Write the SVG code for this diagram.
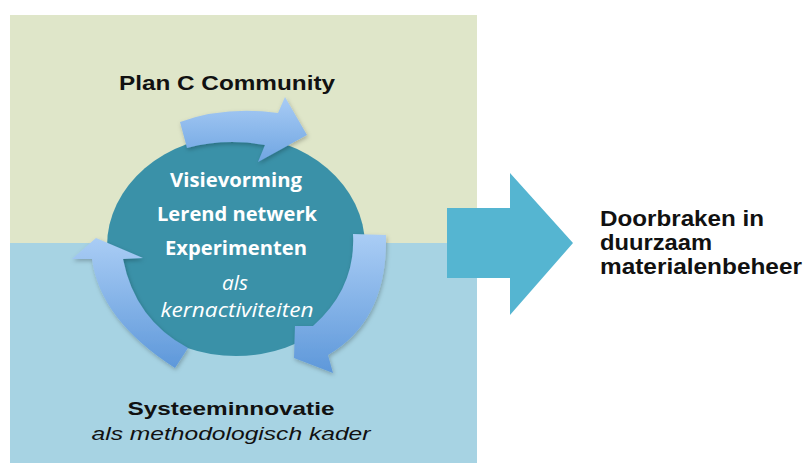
<svg xmlns="http://www.w3.org/2000/svg" width="806" height="465" viewBox="0 0 806 465">
  <defs>
    <linearGradient id="arrowGrad" x1="0" y1="0" x2="0" y2="1">
      <stop offset="0" stop-color="#aacdf5"/>
      <stop offset="1" stop-color="#5e98da"/>
    </linearGradient>
    <linearGradient id="topArrowGrad" x1="0" y1="0" x2="0" y2="1">
      <stop offset="0" stop-color="#a9ccf5"/>
      <stop offset="1" stop-color="#6fa5e2"/>
    </linearGradient>
    <filter id="shadow" x="-20%" y="-20%" width="140%" height="140%">
      <feDropShadow dx="1" dy="2" stdDeviation="2" flood-color="#000" flood-opacity="0.25"/>
    </filter>
  </defs>
  <style>
    .title { font-family: "Liberation Sans", Arial, sans-serif; font-weight: bold; fill: #111; }
    .sub { font-family: "Liberation Sans", Arial, sans-serif; font-style: italic; fill: #111; }
    .inner { font-family: "Open Sans", "Noto Sans", sans-serif; fill: #ffffff; }
    .innerB { font-weight: bold; }
    .innerI { font-style: italic; }
    .cyc { fill: url(#arrowGrad); filter: url(#shadow); }
  </style>
  <rect width="806" height="465" fill="#ffffff"/>

  <g id="panel-top">
    <rect x="10" y="15" width="467" height="228" fill="#dfe6c9"/>
    <text class="title" x="227" y="90" font-size="21" text-anchor="middle" textLength="216" lengthAdjust="spacingAndGlyphs">Plan C Community</text>
  </g>

  <g id="panel-bottom">
    <rect x="10" y="243" width="467" height="220" fill="#a7d3e3"/>
    <text class="title" x="231" y="415" font-size="19" text-anchor="middle" textLength="207" lengthAdjust="spacingAndGlyphs">Systeeminnovatie</text>
    <text class="sub" x="231" y="440" font-size="19" text-anchor="middle" textLength="279" lengthAdjust="spacingAndGlyphs">als methodologisch kader</text>
  </g>

  <g id="core">
    <ellipse cx="236" cy="246" rx="129" ry="110" fill="#3a91a8"/>
    <text class="inner innerB" x="236" y="187" font-size="20" text-anchor="middle" textLength="132" lengthAdjust="spacingAndGlyphs">Visievorming</text>
    <text class="inner innerB" x="237" y="221" font-size="20" text-anchor="middle" textLength="160" lengthAdjust="spacingAndGlyphs">Lerend netwerk</text>
    <text class="inner innerB" x="236" y="255" font-size="20" text-anchor="middle" textLength="142" lengthAdjust="spacingAndGlyphs">Experimenten</text>
    <text class="inner innerI" x="235" y="290" font-size="20" text-anchor="middle" textLength="26" lengthAdjust="spacingAndGlyphs">als</text>
    <text class="inner innerI" x="237" y="317" font-size="20" text-anchor="middle" textLength="153" lengthAdjust="spacingAndGlyphs">kernactiviteiten</text>
  </g>

  <g id="connectors">
    <path id="cycle-top" class="cyc" style="fill:url(#topArrowGrad)" d="M180,122 Q225,106 278,113 L285,97 L307,135 L258,162 L265,145 Q225,138 187,148 Z"/>
    <path id="cycle-right" class="cyc" d="M353,234 L386,235 Q388,320 328,355 L333,373 L294,358 L295,326 L313,326 Q356,288 353,234 Z"/>
    <path id="cycle-left" class="cyc" d="M175,368 Q100,320 92,259 L72,259 L96,238 L143,258 L123,259 Q135,320 188,348 Z"/>
  </g>

  <g id="big-arrow">
    <path d="M447,208 L510,208 L510,173 L573,243 L510,315 L510,278 L447,278 Z" fill="#55b5d1"/>
  </g>

  <g id="result">
    <text class="title" x="600" y="226" font-size="22" textLength="164" lengthAdjust="spacingAndGlyphs">Doorbraken in</text>
    <text class="title" x="600" y="250" font-size="22" textLength="112" lengthAdjust="spacingAndGlyphs">duurzaam</text>
    <text class="title" x="600" y="274" font-size="22" textLength="202" lengthAdjust="spacingAndGlyphs">materialenbeheer</text>
  </g>
</svg>
